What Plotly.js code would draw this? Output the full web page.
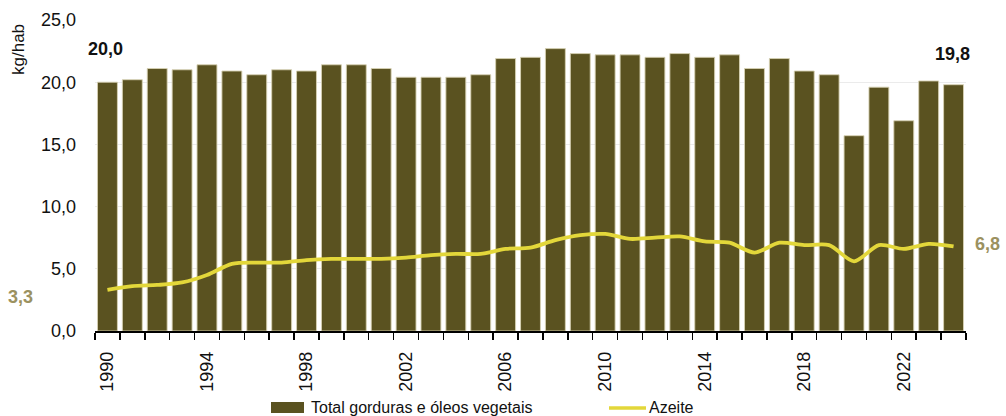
<!DOCTYPE html>
<html>
<head>
<meta charset="utf-8">
<script src="https://cdn.plot.ly/plotly-3.0.1.min.js"></script>
<style>html,body{margin:0;padding:0;background:#fff;}#chart{width:1006px;height:416px;}</style>
</head>
<body>
<div id="chart"></div>
<script>
const years = [1990,1991,1992,1993,1994,1995,1996,1997,1998,1999,2000,2001,2002,2003,2004,2005,2006,2007,2008,2009,2010,2011,2012,2013,2014,2015,2016,2017,2018,2019,2020,2021,2022,2023,2024];
const totalGorduras = [20.0,20.2,21.1,21.0,21.4,20.9,20.6,21.0,20.9,21.4,21.4,21.1,20.4,20.4,20.4,20.6,21.9,22.0,22.7,22.3,22.2,22.2,22.0,22.3,22.0,22.2,21.1,21.9,20.9,20.6,15.7,19.6,16.9,20.1,19.8];
const azeite = [3.3,3.6,3.7,3.9,4.5,5.4,5.5,5.5,5.7,5.8,5.8,5.8,5.9,6.1,6.2,6.2,6.6,6.7,7.3,7.7,7.8,7.4,7.5,7.6,7.2,7.1,6.3,7.1,6.9,6.9,5.6,6.9,6.6,7.0,6.8];
const tickYears = [1990,1994,1998,2002,2006,2010,2014,2018,2022];
const seriesNames = ["Total gorduras e óleos vegetais","Azeite"];

const BAR_COLOR = '#5a5220', LINE_COLOR = '#e3d73a', LABEL_OLIVE = '#9b9160';
const FONT = 'Liberation Sans, Arial, sans-serif';
const fmt = v => v.toFixed(1).replace('.', ',');
const n = years.length;

// plot area geometry (pixels) for placing the custom legend
const W = 1006, H = 416, ML = 95, MR = 40, MT = 20, MB = 85;
const PW = W - ML - MR, PH = H - MT - MB;
const px = x => (x - ML) / PW;
const py = y => (H - MB - y) / PH;

const traces = [
  {type:'bar', x:years, y:totalGorduras, name:seriesNames[0],
   marker:{color:BAR_COLOR, line:{color:'rgba(215,210,180,0.9)', width:1}},
   hoverinfo:'skip', showlegend:false},
  {type:'scatter', mode:'lines', x:years, y:azeite, name:seriesNames[1],
   line:{color:LINE_COLOR, width:3.8, shape:'spline', smoothing:0.8},
   hoverinfo:'skip', showlegend:false}
];

const annotations = [
  {x:years[0], y:totalGorduras[0], text:'<b>'+fmt(totalGorduras[0])+'</b>', showarrow:false, yshift:33, xshift:-2, font:{size:18, color:'#111', family:FONT}},
  {x:years[n-1], y:totalGorduras[n-1], text:'<b>'+fmt(totalGorduras[n-1])+'</b>', showarrow:false, yshift:31, xshift:-1, font:{size:18, color:'#111', family:FONT}},
  {x:years[0], y:azeite[0], text:'<b>'+fmt(azeite[0])+'</b>', showarrow:false, xshift:-87, yshift:-7, font:{size:18, color:LABEL_OLIVE, family:FONT}},
  {x:years[n-1], y:azeite[n-1], text:'<b>'+fmt(azeite[n-1])+'</b>', showarrow:false, xshift:34, yshift:2, font:{size:18, color:LABEL_OLIVE, family:FONT}},
  {xref:'paper', yref:'paper', x:px(18), y:py(50), xanchor:'center', yanchor:'middle', text:'kg/hab', textangle:-90, showarrow:false, font:{size:17, color:'#111', family:FONT}},
  // legend texts
  {xref:'paper', yref:'paper', x:px(309), y:py(407), xanchor:'left', yanchor:'middle', text:seriesNames[0], showarrow:false, font:{size:16, color:'#111', family:FONT}},
  {xref:'paper', yref:'paper', x:px(647), y:py(407), xanchor:'left', yanchor:'middle', text:seriesNames[1], showarrow:false, font:{size:16, color:'#111', family:FONT}}
];

const shapes = [
  {type:'rect', xref:'paper', yref:'paper', x0:px(271), x1:px(304), y0:py(413), y1:py(402), fillcolor:BAR_COLOR, line:{width:0}},
  {type:'line', xref:'paper', yref:'paper', x0:px(609), x1:px(646), y0:py(408), y1:py(408), line:{color:LINE_COLOR, width:3.5}}
];

const layout = {
  width:W, height:H,
  margin:{l:ML, r:MR, t:MT, b:MB},
  paper_bgcolor:'#fff', plot_bgcolor:'#fff',
  separators:', ',
  font:{family:FONT, size:17, color:'#111'},
  bargap:0.2,
  showlegend:false,
  xaxis:{range:[1989.5, 2024.5], tickvals:tickYears, ticktext:tickYears.map(String), tickangle:-90,
         ticks:'', showgrid:false, showline:true, linecolor:'#000', linewidth:1.5, zeroline:false, automargin:false,
         ticklabelstandoff:12,
         tickfont:{size:18, color:'#111', family:FONT},
         minor:{tick0:1989.5, dtick:1, ticks:'outside', ticklen:7, tickcolor:'#000', tickwidth:1.5, showgrid:false}},
  yaxis:{range:[0,25], dtick:5, tickformat:'.1f', showgrid:true, gridcolor:'rgba(222,222,222,0.6)', gridwidth:1.2,
         zeroline:false, showline:false, ticks:'', automargin:false, ticklabelstandoff:18,
         tickfont:{size:18, color:'#111', family:FONT}, layer:'above traces'},
  annotations:annotations,
  shapes:shapes
};

Plotly.newPlot('chart', traces, layout, {staticPlot:true, displayModeBar:false});
</script>
</body>
</html>
